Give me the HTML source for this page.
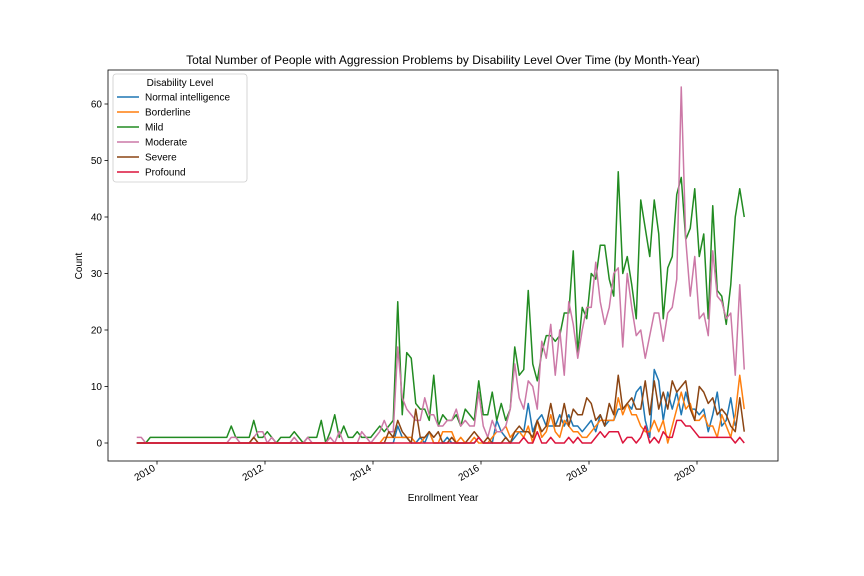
<!DOCTYPE html>
<html><head><meta charset="utf-8"><style>
body{margin:0;background:#fff;}
svg{display:block;font-family:"Liberation Sans","DejaVu Sans",sans-serif;}
</style></head><body>
<svg id="chart" width="864" height="576" viewBox="0 0 864 576">
<rect x="0" y="0" width="864" height="576" fill="#fff"/>
<text x="443" y="64" text-anchor="middle" font-size="12">Total Number of People with Aggression Problems by Disability Level Over Time (by Month-Year)</text>
<text x="82" y="266" text-anchor="middle" font-size="10" transform="rotate(-90 82 266)">Count</text>
<text x="443" y="501" text-anchor="middle" font-size="10">Enrollment Year</text>
<g id="plot"></g>
</svg>
<script>
const seriesNames=["Normal intelligence","Borderline","Mild","Moderate","Severe","Profound"];
const startYear=2009.625;
const xTicks=[2010,2012,2014,2016,2018,2020];
const yTicks=[0,10,20,30,40,50,60];
const normal=[0,0,0,0,0,0,0,0,0,0, 0,0,0,0,0,0,0,0,0,0, 0,0,0,0,0,0,0,0,0,0, 0,0,0,0,0,0,0,0,0,0, 0,0,0,0,0,0,0,0,0,0, 0,0,0,0,0,0,0,0,
3,1,1,0,0,1,0,2,0,0,0,1,0,0,0,0,0,0,1,0,0,0,4,2,
1,0,1,2,2,7,2,4,5,3,
3,3,5,3,5,3,3,2,3,4,2,5,3,4,4,6,6,7,6,9,10,4,1,13,11,4,9,6,9,5,9,6,6,5,6,2,5,9,3,4,8,3];
const borderline=[0,0,0,0,0,0,0,0,0,0, 0,0,0,0,0,0,0,0,0,0, 0,0,0,0,0,0,0,0,0,0, 0,0,0,0,0,0,0,0,0,0, 0,0,0,0,0,0,0,0,0,0, 0,0,0,0,0,
1,1,1,1,1,1,1,0,0,1,2,0,0,2,2,2,0,1,0,0,1,0,0,0,1,2,2,3,1,
2,2,1,3,0,4,1,2,5,2,
1,4,3,2,2,1,1,2,3,4,4,4,4,8,5,7,5,5,3,2,2,4,2,4,0,3,6,9,6,7,4,4,5,3,3,1,5,3,1,5,12,6];
const mild=[0,0,0,1,1,1,1,1,1,1, 1,1,1,1,1,1,1,1,1,1, 1,3,1,1,1,1,4,1,1,2, 1,0,1,1,1,2,1,0,1,1,
1,4,0,2,5,1,3,
1,1,2,1,1,1,2,3,2,3,4,
25,5,16,15,7,6,6,4,12,3,5,4,4,5,3,6,5,4,11,5,5,9,4,7,4,6,17,12,13,27,14,11,16,19,19,18,
19,23,23,34,16,24,22,30,29,35,35,29,26,48,30,33,28,22,43,38,33,43,37,22,31,33,44,47,36,38,45,33,37,22,42,27,26,21,28,40,45,40];
const moderate=[1,1,0,0,0,0,0,0,0,0, 0,0,0,0,0,0,0,0,0,0, 0,1,1,0,0,0,1,2,2,0, 1,0,0,0,0,1,0,0,1,0,
0,0,0,1,0,2,0,
0,0,0,2,1,0,1,2,4,2,2,
17,8,6,5,4,4,8,5,5,3,3,4,4,6,3,4,3,3,9,3,1,4,2,2,3,6,14,8,6,11,10,6,18,15,21,12,
20,12,25,21,15,20,24,24,32,25,21,24,30,31,17,30,24,19,20,15,19,23,23,18,23,24,29,63,36,26,33,22,23,19,34,26,25,22,23,12,28,13];
const severe=[0,0,0,0,0,0,0,0,0,0, 0,0,0,0,0,0,0,0,0,0, 0,0,0,0,0,0,1,0,0,0, 0,0,0,0,0,0,0,0,0,0, 0,0,0,0,0,0,0,0,0,0, 0,0,0,0,0,0,
2,1,4,2,1,0,6,1,1,2,1,2,0,0,1,0,0,0,1,2,1,0,1,0,0,0,1,0,
2,3,2,2,1,4,2,3,7,3,
3,7,3,6,5,5,8,7,4,5,3,7,5,12,6,7,8,6,6,11,5,11,6,9,6,11,9,10,11,6,4,10,9,7,8,5,6,5,3,2,8,2];
const profound=[0,0,0,0,0,0,0,0,0,0, 0,0,0,0,0,0,0,0,0,0, 0,0,0,0,0,0,0,0,0,0, 0,0,0,0,0,0,0,0,0,0, 0,0,0,0,0,0,0,0,0,0, 0,0,0,0,0,0,0,0,0,0, 0,0,0,0,0,0,0,0,0,0, 0,0,0,0,0,0,1,0,0,0, 0,0,0,0,
0,0,1,0,0,2,0,0,1,0,
0,0,1,0,1,0,0,0,1,2,1,2,2,2,0,1,1,0,1,3,0,1,0,2,1,1,4,4,3,3,2,1,1,1,1,1,1,1,1,0,1,0];
const allSeries=[normal,borderline,mild,moderate,severe,profound];
const colors=["#1f77b4","#ff7f0e","#228b22","#cc79a7","#8b4513","#dc143c"];
const L=108,R=778,T=70,B=461;
function xScale(yr){return 157+(yr-2010)*54;}
function yScale(v){return 443-v*5.65;}
const NS="http://www.w3.org/2000/svg";
const plot=document.getElementById('plot');
function mk(tag,attrs,parent){const e=document.createElementNS(NS,tag);for(const k in attrs)e.setAttribute(k,attrs[k]);(parent||plot).appendChild(e);return e;}
allSeries.forEach((s,si)=>{
  const pts=s.map((v,i)=>xScale(startYear+i/12).toFixed(2)+","+yScale(v).toFixed(2)).join(" ");
  const pl=mk('polyline',{points:pts,fill:'none',stroke:colors[si],'stroke-width':1.5,'stroke-linejoin':'round'});
  
  
});
const fr=mk('rect',{x:L,y:T,width:R-L,height:B-T,fill:'none',stroke:'#000','stroke-width':0.8});


yTicks.forEach(v=>{
  const y=yScale(v);
  const t=mk('line',{x1:L-3.5,x2:L,y1:y,y2:y,stroke:'#000','stroke-width':0.8});
  
  
  const tx=mk('text',{x:L-6,y:y+3.5,'text-anchor':'end','font-size':10});
  tx.textContent=v;
  
  
});
xTicks.forEach(yr=>{
  const x=xScale(yr);
  const t=mk('line',{x1:x,x2:x,y1:B,y2:B+3.5,stroke:'#000','stroke-width':0.8});
  
  
  const ax=x-1, ay=B+9;
  const tx=mk('text',{x:ax,y:ay,'text-anchor':'end','font-size':10,transform:'rotate(-30 '+ax+' '+ay+')'});
  tx.textContent=yr;
  
  
});
const lg=mk('g',{});


mk('rect',{x:113,y:74,width:134,height:108,rx:3,fill:'#fff','fill-opacity':0.85,stroke:'#ccc','stroke-width':0.8},lg);
const lt=mk('text',{x:180,y:86,'text-anchor':'middle','font-size':10},lg);
lt.textContent='Disability Level';


seriesNames.forEach((n,i)=>{
  const y=97+i*15;
  const g=mk('g',{},lg);
  
  
  mk('line',{x1:117,x2:139,y1:y,y2:y,stroke:colors[i],'stroke-width':1.5},g);
  const t=mk('text',{x:145,y:y+3.5,'font-size':10},g);
  t.textContent=n;
});
</script>
</body></html>
